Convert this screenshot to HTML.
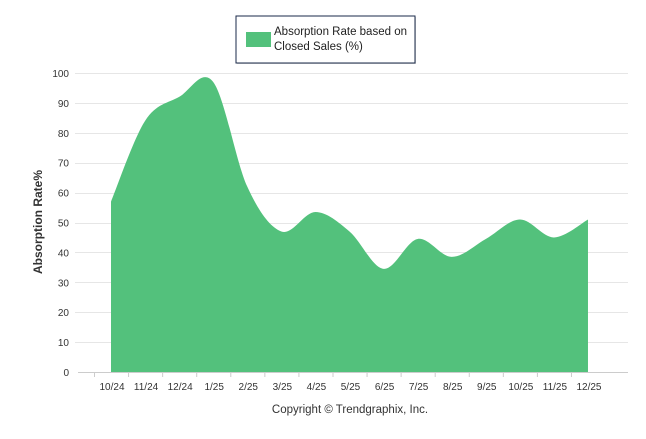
<!DOCTYPE html>
<html><head><meta charset="utf-8"><style>
body{margin:0;background:#fff;width:646px;height:434px;overflow:hidden;font-family:"Liberation Sans",sans-serif}
</style></head><body>
<svg id="s" width="646" height="434" xmlns="http://www.w3.org/2000/svg" font-family="Liberation Sans, sans-serif">
<rect x="237" y="17" width="179" height="47" fill="#999" opacity="0.4"/>
<rect x="236" y="16" width="179" height="47" fill="#fff" stroke="#1a2a4a" stroke-width="1"/>
<rect x="246" y="32" width="25" height="15" fill="#53c17c"/>
<text x="274" y="35" font-size="11.5" fill="#222">Absorption Rate based on</text>
<text x="274" y="50" font-size="11.5" fill="#222">Closed Sales (%)</text>
<g id="grid" stroke="#e6e6e6" stroke-width="1"></g>
<g id="yl" font-size="10" fill="#333" text-anchor="end"></g>
<path id="area" fill="#53c17c"/>
<line x1="78" y1="372.5" x2="628" y2="372.5" stroke="#ccc"/>
<g id="xl" font-size="10" fill="#333" text-anchor="middle"></g>
<text transform="translate(42,222) rotate(-90)" font-size="12" font-weight="bold" fill="#333" text-anchor="middle">Absorption Rate%</text>
<text x="350" y="413" font-size="11.5" fill="#333" text-anchor="middle">Copyright © Trendgraphix, Inc.</text>
</svg>
<script>
var ns="http://www.w3.org/2000/svg";
function y(v){return 372-2.99*v;}
var g=document.getElementById("grid"),yl=document.getElementById("yl");
for(var v=10;v<=100;v+=10){var l=document.createElementNS(ns,"line");l.setAttribute("x1",75);l.setAttribute("x2",628);l.setAttribute("y1",Math.round(y(v))+.5);l.setAttribute("y2",Math.round(y(v))+.5);g.appendChild(l);}
for(var v=0;v<=100;v+=10){var t=document.createElementNS(ns,"text");t.setAttribute("x",69);t.setAttribute("y",y(v)+4);t.textContent=v;yl.appendChild(t);}
var labs=["10/24","11/24","12/24","1/25","2/25","3/25","4/25","5/25","6/25","7/25","8/25","9/25","10/25","11/25","12/25"];
var vals=[57,84,92,97,62,47,53.5,47,34.5,44.5,38.5,44.5,51,45,51];
var xl=document.getElementById("xl"),pts=[];
for(var i=0;i<15;i++){var x=111+34.07*i;pts.push([x,y(vals[i])]);var t=document.createElementNS(ns,"text");t.setAttribute("x",x+1);t.setAttribute("y",390);t.textContent=labs[i];xl.appendChild(t);
var tk=document.createElementNS(ns,"line");tk.setAttribute("x1",x-17+.5);tk.setAttribute("x2",x-17+.5);tk.setAttribute("y1",372);tk.setAttribute("y2",377);tk.setAttribute("stroke","#ccc");xl.appendChild(tk);}
var d="M"+pts[0][0]+","+372+"L"+pts[0][0]+","+pts[0][1];
for(var i=0;i<14;i++){var p0=pts[Math.max(i-1,0)],p1=pts[i],p2=pts[i+1],p3=pts[Math.min(i+2,14)];var k=1/6;
d+="C"+(p1[0]+(p2[0]-p0[0])*k)+","+(p1[1]+(p2[1]-p0[1])*k)+" "+(p2[0]-(p3[0]-p1[0])*k)+","+(p2[1]-(p3[1]-p1[1])*k)+" "+p2[0]+","+p2[1];}
d+="L"+pts[14][0]+",372Z";
document.getElementById("area").setAttribute("d",d);
</script>
</body></html>
